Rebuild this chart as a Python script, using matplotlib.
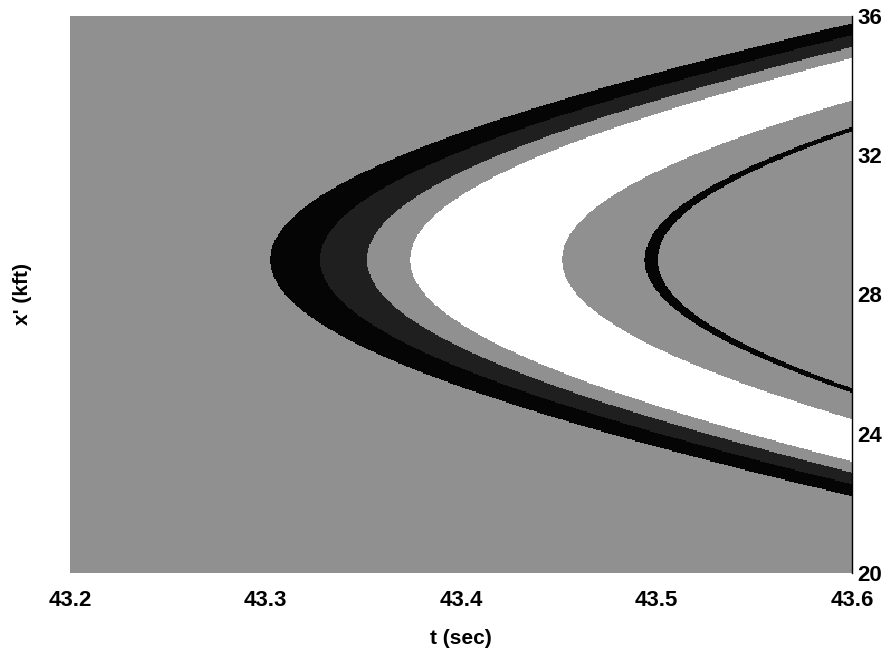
import numpy as np
import matplotlib
matplotlib.use("Agg")
import matplotlib.pyplot as plt
from matplotlib.colors import ListedColormap, BoundaryNorm

# ---- data ----
# band boundaries, expressed as the time (s) at which each boundary crosses the apex line
band_edges = [43.3023, 43.3279, 43.3519, 43.3739, 43.4517, 43.4941, 43.5008]
# fill colour of each band (outermost first, last = inside the innermost boundary)
band_colors = ["#909090", "#050505", "#1f1f1f", "#909090", "#ffffff", "#909090", "#050505", "#909090"]
# hyperbolic moveout shape shared by all boundaries
apex_x = 29.0      # kft, position of apex
t_zero = 0.70      # s
velocity = 9.57    # kft/s

t_limits = [43.2, 43.6]
x_limits = [20, 36]
t_ticks = [43.2, 43.3, 43.4, 43.5, 43.6]
t_ticklabels = ["43.2", "43.3", "43.4", "43.5", "43.6"]
x_ticks = [20, 24, 28, 32, 36]
x_ticklabels = ["20", "24", "28", "32", "36"]

# ---- figure ----
W, H = 884, 652
fig = plt.figure(figsize=(W / 100, H / 100), dpi=100)
L, R, T, B = 70, 852, 16, 573
ax = fig.add_axes([L / W, 1 - B / H, (R - L) / W, (B - T) / H])

t = np.linspace(t_limits[0], t_limits[1], 700)
x = np.linspace(x_limits[0], x_limits[1], 500)
TT, XX = np.meshgrid(t, x)
tau = TT - (np.sqrt(t_zero ** 2 + ((XX - apex_x) / velocity) ** 2) - t_zero)

levels = [t_limits[0] - 10] + band_edges + [t_limits[1] + 10]
cmap = ListedColormap(band_colors)
norm = BoundaryNorm(levels, cmap.N)
ax.imshow(tau, cmap=cmap, norm=norm, origin="lower", aspect="auto",
          extent=[t_limits[0], t_limits[1], x_limits[0], x_limits[1]],
          interpolation="nearest")

ax.set_xlim(t_limits)
ax.set_ylim(x_limits)
ax.set_xticks(t_ticks)
ax.set_xticklabels(t_ticklabels)
ax.set_yticks(x_ticks)
ax.set_yticklabels(x_ticklabels)
ax.yaxis.tick_right()
ax.tick_params(axis="both", length=0, labelsize=16)
ax.tick_params(axis="x", pad=12)
ax.tick_params(axis="y", pad=4)
for lab in ax.get_xticklabels() + ax.get_yticklabels():
    lab.set_fontfamily("Liberation Sans")
    lab.set_fontweight("bold")
for side in ["left", "top", "bottom"]:
    ax.spines[side].set_visible(False)
ax.spines["right"].set_linewidth(1.0)

fig.text(461 / W, 1 - 638 / H, "t (sec)", ha="center", va="center",
         fontsize=15, fontweight="bold", family="Liberation Sans")
fig.text(22 / W, 1 - 294 / H, "x' (kft)", ha="center", va="center", rotation=90,
         fontsize=15, fontweight="bold", family="Liberation Sans")

fig.savefig("out.png", dpi=100)
